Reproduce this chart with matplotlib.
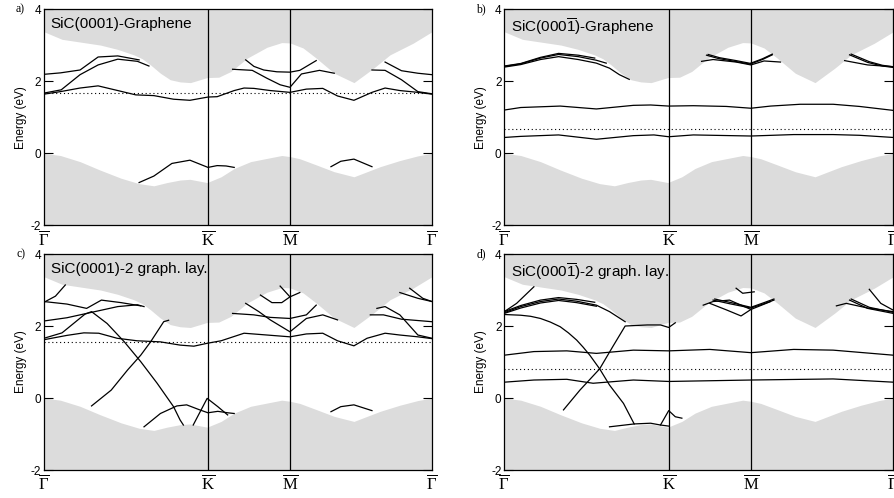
import matplotlib
matplotlib.use("Agg")
import matplotlib.pyplot as plt

plt.rcParams['font.family'] = ['Liberation Sans', 'DejaVu Sans']
plt.rcParams['mathtext.fontset'] = 'custom'
plt.rcParams['mathtext.rm'] = 'Liberation Serif'
plt.rcParams['mathtext.sf'] = 'Liberation Sans'
plt.rcParams['mathtext.it'] = 'Liberation Serif:italic'

# high-symmetry points (path lengths: Gamma-K = 1, K-M = 1/2, M-Gamma = sqrt(3)/2)
kpts = [0.0, 1.0, 1.5, 2.366]
klabels = [r'$\overline{\Gamma}$', r'$\overline{\mathrm{K}}$', r'$\overline{\mathrm{M}}$', r'$\overline{\Gamma}$']

# projected SiC bulk bands (gray regions)
cb_x = [0, 0.11, 0.345, 0.45, 0.548, 0.60, 0.65, 0.71, 0.77, 0.83, 0.893, 0.995, 1.066, 1.14, 1.24,
        1.36, 1.45, 1.50, 1.58, 1.66, 1.77, 1.89, 2.01, 2.11, 2.25, 2.366]
cb_y = [3.37, 3.16, 3.0, 2.88, 2.73, 2.62, 2.45, 2.22, 2.04, 1.98, 1.96, 2.10, 2.11, 2.27, 2.64,
        2.94, 3.07, 3.06, 2.92, 2.64, 2.22, 1.96, 2.36, 2.73, 3.05, 3.37]
vb_x = [0, 0.10, 0.22, 0.34, 0.47, 0.58, 0.67, 0.75, 0.83, 0.89, 0.995, 1.08, 1.16, 1.26, 1.36,
        1.45, 1.50, 1.56, 1.66, 1.77, 1.89, 1.97, 2.05, 2.17, 2.28, 2.366]
vb_y = [0.0, -0.06, -0.23, -0.46, -0.69, -0.84, -0.90, -0.81, -0.74, -0.72, -0.81, -0.65, -0.42, -0.23, -0.14,
        -0.06, -0.09, -0.15, -0.32, -0.51, -0.65, -0.51, -0.37, -0.20, -0.07, 0.0]

# a) SiC(0001)-Graphene
bands_a = [
    ([0, 0.10, 0.22, 0.33, 0.45, 0.58], [2.19, 2.23, 2.31, 2.67, 2.70, 2.59]),
    ([0, 0.105, 0.22, 0.33, 0.45, 0.57, 0.64], [1.67, 1.76, 2.18, 2.45, 2.61, 2.55, 2.42]),
    ([0, 0.10, 0.22, 0.33, 0.45, 0.56, 0.67, 0.79, 0.89, 1.0, 1.056, 1.16, 1.22, 1.28, 1.38, 1.50,
      1.60, 1.70, 1.79, 1.89, 2.0, 2.08, 2.17, 2.28, 2.366],
     [1.64, 1.71, 1.81, 1.87, 1.74, 1.62, 1.60, 1.50, 1.47, 1.56, 1.57, 1.74, 1.81, 1.80, 1.74, 1.69,
      1.78, 1.80, 1.59, 1.47, 1.69, 1.81, 1.74, 1.69, 1.64]),
    ([1.23, 1.28, 1.34, 1.42, 1.50, 1.56, 1.66], [2.59, 2.41, 2.31, 2.26, 2.25, 2.30, 2.57]),
    ([1.15, 1.27, 1.36, 1.44, 1.50, 1.57, 1.68, 1.77], [2.33, 2.30, 2.08, 1.90, 1.83, 2.20, 2.30, 2.22]),
    ([2.08, 2.18, 2.28, 2.366], [2.53, 2.29, 2.22, 2.18]),
    ([2.0, 2.08, 2.18, 2.28, 2.366], [2.31, 2.30, 2.04, 1.71, 1.65]),
    ([0.58, 0.67, 0.78, 0.89, 1.0, 1.056, 1.11, 1.16], [-0.81, -0.63, -0.28, -0.19, -0.39, -0.34, -0.35, -0.39]),
    ([1.75, 1.81, 1.89, 2.0], [-0.37, -0.22, -0.16, -0.37]),
]
ef_a = 1.67

# b) SiC(000-1)-Graphene
bands_b = [
    ([0, 0.10, 0.22, 0.33, 0.45, 0.56, 0.64, 0.70, 0.76], [2.39, 2.46, 2.60, 2.68, 2.60, 2.50, 2.36, 2.18, 2.05]),
    ([0, 0.10, 0.22, 0.33, 0.45, 0.56, 0.62], [2.41, 2.48, 2.64, 2.74, 2.68, 2.58, 2.50]),
    ([0, 0.10, 0.22, 0.33, 0.45, 0.55], [2.42, 2.49, 2.66, 2.77, 2.72, 2.64]),
    ([1.23, 1.30, 1.40, 1.50], [2.72, 2.63, 2.55, 2.47]),
    ([1.24, 1.31, 1.41, 1.50], [2.74, 2.65, 2.57, 2.49]),
    ([1.20, 1.27, 1.41, 1.50, 1.58, 1.68], [2.55, 2.60, 2.53, 2.45, 2.56, 2.53]),
    ([1.50, 1.57, 1.63], [2.48, 2.60, 2.73]),
    ([1.50, 1.57, 1.63], [2.50, 2.62, 2.75]),
    ([2.07, 2.21, 2.366], [2.57, 2.45, 2.40]),
    ([2.10, 2.21, 2.30, 2.366], [2.73, 2.52, 2.42, 2.38]),
    ([2.11, 2.22, 2.30, 2.366], [2.75, 2.54, 2.44, 2.40]),
    ([0, 0.10, 0.34, 0.56, 0.785, 0.89, 1.0, 1.15, 1.35, 1.5, 1.62, 1.80, 2.0, 2.16, 2.366],
     [1.20, 1.27, 1.31, 1.23, 1.33, 1.34, 1.31, 1.32, 1.30, 1.25, 1.31, 1.36, 1.36, 1.30, 1.19]),
    ([0, 0.10, 0.33, 0.56, 0.785, 0.91, 1.0, 1.15, 1.5, 1.76, 2.0, 2.16, 2.366],
     [0.44, 0.47, 0.51, 0.39, 0.49, 0.51, 0.46, 0.51, 0.48, 0.52, 0.52, 0.50, 0.44]),
]
ef_b = 0.67

# c) SiC(0001)-2 graphene layers
bands_c = [
    ([0, 0.07, 0.13], [2.66, 2.83, 3.14]),
    ([0, 0.14, 0.26, 0.35, 0.47, 0.59], [2.68, 2.61, 2.49, 2.72, 2.65, 2.56]),
    ([0, 0.14, 0.28, 0.45, 0.57, 0.61], [2.14, 2.23, 2.37, 2.54, 2.59, 2.54]),
    ([0, 0.11, 0.25, 0.29, 0.385, 0.49, 0.59, 0.69, 0.79, 0.83, 0.85],
     [1.66, 1.81, 2.33, 2.40, 2.07, 1.56, 1.01, 0.41, -0.24, -0.61, -0.75]),
    ([0.29, 0.41, 0.51, 0.59, 0.65, 0.73, 0.76], [-0.22, 0.22, 0.78, 1.19, 1.56, 2.12, 2.16]),
    ([0, 0.14, 0.243, 0.334, 0.446, 0.568, 0.71, 0.83, 0.914, 0.995, 1.08, 1.22, 1.36, 1.5, 1.60,
      1.70, 1.79, 1.89, 1.97, 2.08, 2.17, 2.28, 2.366],
     [1.62, 1.74, 1.81, 1.80, 1.66, 1.59, 1.56, 1.47, 1.44, 1.52, 1.59, 1.80, 1.75, 1.70, 1.78,
      1.80, 1.59, 1.45, 1.66, 1.80, 1.75, 1.70, 1.65]),
    ([1.15, 1.28, 1.38, 1.5, 1.6, 1.66], [2.35, 2.31, 2.24, 2.21, 2.31, 2.58]),
    ([1.23, 1.31, 1.38, 1.5, 1.6, 1.70, 1.79], [2.63, 2.40, 2.17, 1.84, 2.21, 2.31, 2.17]),
    ([1.32, 1.39, 1.45, 1.50, 1.56], [2.86, 2.65, 2.65, 2.81, 2.93]),
    ([1.44, 1.50], [3.11, 2.81]),
    ([2.03, 2.08, 2.17, 2.28, 2.366], [2.49, 2.54, 2.31, 1.75, 1.66]),
    ([1.99, 2.07, 2.18, 2.366], [2.31, 2.31, 2.19, 2.12]),
    ([2.17, 2.28, 2.366], [2.93, 2.77, 2.68]),
    ([2.23, 2.31, 2.366], [3.05, 2.77, 2.68]),
    ([0.61, 0.71, 0.81, 0.87, 0.95, 1.0, 1.06, 1.12, 1.16], [-0.80, -0.43, -0.22, -0.19, -0.33, -0.41, -0.37, -0.41, -0.43]),
    ([0.91, 0.995, 1.06, 1.12], [-0.75, -0.01, -0.24, -0.47]),
    ([1.75, 1.81, 1.89, 2.0], [-0.38, -0.24, -0.19, -0.35]),
]
ef_c = 1.57

# d) SiC(000-1)-2 graphene layers
bands_d = [
    ([0, 0.075, 0.18], [2.40, 2.63, 3.09]),
    ([0, 0.10, 0.22, 0.33, 0.44, 0.56, 0.64, 0.735], [2.37, 2.54, 2.68, 2.75, 2.69, 2.58, 2.40, 2.12]),
    ([0, 0.10, 0.22, 0.33, 0.44, 0.55], [2.40, 2.57, 2.72, 2.79, 2.74, 2.66]),
    ([0, 0.10, 0.22, 0.33, 0.44, 0.56], [2.35, 2.50, 2.64, 2.71, 2.65, 2.55]),
    ([0, 0.10, 0.16, 0.22, 0.28, 0.34, 0.39, 0.44, 0.48, 0.52, 0.58, 0.64, 0.725, 0.79],
     [2.32, 2.30, 2.27, 2.21, 2.11, 1.98, 1.81, 1.61, 1.41, 1.19, 0.81, 0.36, -0.15, -0.72]),
    ([0.36, 0.46, 0.58, 0.66, 0.735, 0.87, 0.95, 1.0, 1.04], [-0.33, 0.22, 0.81, 1.43, 2.0, 2.03, 2.03, 1.96, 2.09]),
    ([0, 0.18, 0.38, 0.56, 0.785, 1.0, 1.25, 1.5, 1.76, 2.0, 2.366],
     [1.19, 1.29, 1.31, 1.24, 1.33, 1.31, 1.35, 1.26, 1.35, 1.33, 1.19]),
    ([0, 0.18, 0.38, 0.54, 0.785, 1.0, 1.5, 2.0, 2.366], [0.44, 0.50, 0.52, 0.41, 0.50, 0.46, 0.50, 0.53, 0.44]),
    ([0.64, 0.79, 0.89, 0.95, 1.0, 1.04, 1.08], [-0.80, -0.72, -0.70, -0.75, -0.35, -0.52, -0.56]),
    ([0.95, 1.0], [-0.75, -0.78]),
    ([1.21, 1.27, 1.37, 1.5, 1.62], [2.58, 2.68, 2.72, 2.46, 2.68]),
    ([1.25, 1.35, 1.44, 1.5], [2.63, 2.45, 2.28, 2.46]),
    ([1.41, 1.45, 1.52], [3.05, 2.91, 2.95]),
    ([1.27, 1.37, 1.5, 1.58, 1.64], [2.72, 2.62, 2.50, 2.62, 2.72]),
    ([1.28, 1.38, 1.5, 1.58, 1.64], [2.75, 2.65, 2.52, 2.65, 2.75]),
    ([2.10, 2.21, 2.366], [2.72, 2.49, 2.35]),
    ([2.11, 2.22, 2.366], [2.75, 2.52, 2.38]),
    ([2.22, 2.29, 2.366], [3.02, 2.63, 2.44]),
    ([2.02, 2.08, 2.21, 2.366], [2.56, 2.63, 2.50, 2.40]),
]
ef_d = 0.81

panels = [
    ('a)', 'SiC(0001)-Graphene', bands_a, ef_a),
    ('b)', r'SiC(000$\overline{\mathsf{1}}$)-Graphene', bands_b, ef_b),
    ('c)', 'SiC(0001)-2 graph. lay.', bands_c, ef_c),
    ('d)', r'SiC(000$\overline{\mathsf{1}}$)-2 graph. lay.', bands_d, ef_d),
]

fig = plt.figure(figsize=(8.94, 4.98), dpi=100)
rects = [
    [0.0492, 0.5472, 0.4340, 0.4347],
    [0.5641, 0.5472, 0.4351, 0.4347],
    [0.0492, 0.0562, 0.4340, 0.4337],
    [0.5641, 0.0562, 0.4351, 0.4337],
]

gray = '#dcdcdc'
for rect, (tag, title, bands, ef) in zip(rects, panels):
    ax = fig.add_axes(rect)
    ax.fill_between(cb_x, cb_y, 4, color=gray, lw=0)
    ax.fill_between(vb_x, -2, vb_y, color=gray, lw=0)
    for xs, ys in bands:
        ax.plot(xs, ys, color='k', lw=0.9)
    ax.axhline(ef, color='k', lw=0.8, ls=(0, (1, 2.5)))
    for k in kpts[1:3]:
        ax.axvline(k, color='k', lw=0.9)
    ax.set_xlim(0, kpts[-1])
    ax.set_ylim(-2, 4)
    ax.set_yticks([-2, 0, 2, 4])
    ax.set_yticklabels(['-2', '0', '2', '4'])
    ax.tick_params(axis='y', direction='in', length=6.5, width=0.8, labelsize=8.5, pad=2,
                   left=True, right=True)
    ax.set_xticks(kpts)
    ax.set_xticklabels(klabels)
    ax.tick_params(axis='x', length=0, labelsize=12, pad=2.5)
    for sp in ax.spines.values():
        sp.set_linewidth(0.9)
    ax.set_ylabel('Energy (eV)', fontsize=8.5, labelpad=3)
    ax.text(0.017, 0.965, title, transform=ax.transAxes, fontsize=11, va='top', ha='left')
    ax.text(-0.072, 1.0, tag, transform=ax.transAxes, fontsize=8.5, va='center', ha='left',
            family='Liberation Serif')

fig.savefig('out.png', dpi=100)
